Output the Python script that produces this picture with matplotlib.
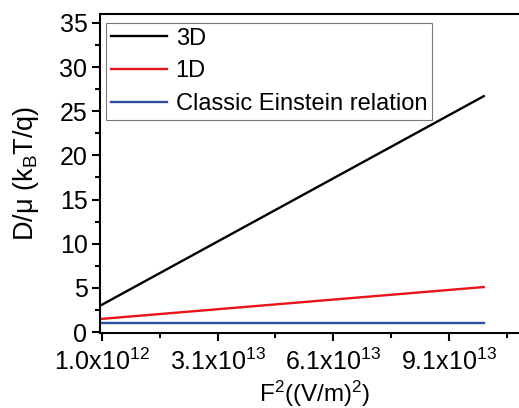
import matplotlib
matplotlib.use("Agg")
import matplotlib.pyplot as plt
from matplotlib.ticker import MultipleLocator, FixedLocator

plt.rcParams['font.family'] = ['Liberation Sans', 'DejaVu Sans']
plt.rcParams['mathtext.fontset'] = 'custom'
plt.rcParams['mathtext.rm'] = 'Liberation Sans'
plt.rcParams['mathtext.it'] = 'Liberation Sans:italic'

# field squared (V/m)^2, end points of each straight curve
f2 = [1.0e12, 1.0e14]
d3 = [3.1, 26.7]
d1 = [1.5, 5.1]
classic = [1.0, 1.0]

xtick_vals = [1.0e12, 3.1e13, 6.1e13, 9.1e13]
xtick_labels = [r'1.0x10$^{\mathregular{12}}$', r'3.1x10$^{\mathregular{13}}$',
                r'6.1x10$^{\mathregular{13}}$', r'9.1x10$^{\mathregular{13}}$']

fig = plt.figure(figsize=(5.19, 4.08), dpi=100)
ax = fig.add_axes([100/519, 1 - 333/408, (530-100)/519, (333-14)/408])

ax.plot(f2, d3, color='black', lw=1.7, label='3D')
ax.plot(f2, d1, color='#e8141c', lw=1.7, label='1D')
ax.plot(f2, classic, color='#2e4fa0', lw=1.7, label='Classic Einstein relation')

ax.set_xlim(0.5e12, 1.12e14)
ax.set_ylim(-0.1, 36)

ax.xaxis.set_major_locator(FixedLocator(xtick_vals))
ax.set_xticklabels(xtick_labels)
ax.xaxis.set_minor_locator(FixedLocator([1.6e13, 4.6e13, 7.6e13, 1.06e14]))
ax.yaxis.set_major_locator(MultipleLocator(5))
ax.yaxis.set_minor_locator(MultipleLocator(2.5))

ax.tick_params(which='both', direction='out', width=1.5, labelsize=18)
ax.tick_params(which='major', length=6)
ax.tick_params(which='minor', length=3.5)
ax.tick_params(axis='x', pad=5)
ax.tick_params(axis='y', pad=3)
for s in ax.spines.values():
    s.set_linewidth(1.5)

ax.set_xlabel(r'F$^{\mathregular{2}}$((V/m)$^{\mathregular{2}}$)', fontsize=17.5, labelpad=3)
ax.set_ylabel(r'D/$\mathregular{\mu}$ (k$_{\mathregular{B}}$T/q)', fontsize=19.5, labelpad=13)

leg = ax.legend(loc='upper left', bbox_to_anchor=(0.014, 0.972), fontsize=17,
                frameon=True, fancybox=False, edgecolor='#555555',
                handlelength=2.4, handletextpad=0.35, borderpad=0.2,
                labelspacing=0.45, borderaxespad=0)
leg.get_frame().set_linewidth(0.8)

fig.savefig('out.png', dpi=100)
